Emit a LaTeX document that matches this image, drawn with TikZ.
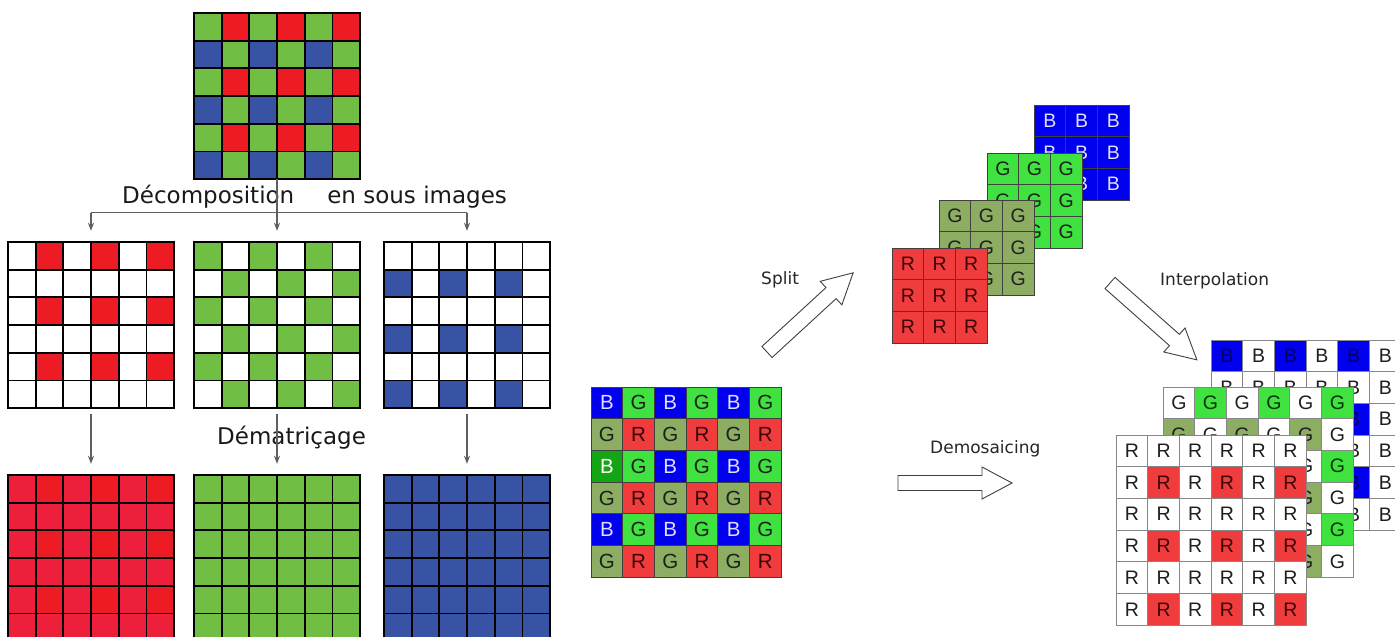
\documentclass[tikz,border=0pt]{standalone}
\usepackage{fontspec}
\setmainfont{DejaVu Sans}
\newfontfamily\arialf{Liberation Sans}
\usetikzlibrary{arrows.meta}
\definecolor{lred}{RGB}{237,28,36}
\definecolor{lredb}{RGB}{238,31,58}
\definecolor{lgreen}{RGB}{112,191,68}
\definecolor{lblue}{RGB}{57,83,164}
\definecolor{mblue}{RGB}{0,0,238}
\definecolor{mgreen}{RGB}{64,226,64}
\definecolor{molive}{RGB}{141,174,98}
\definecolor{mred}{RGB}{240,60,60}
\definecolor{mdkgreen}{RGB}{20,165,20}
\definecolor{bluetxt}{RGB}{222,222,255}
\definecolor{navytxt}{RGB}{0,0,90}
\definecolor{dgtxt}{RGB}{10,50,10}
\definecolor{drtxt}{RGB}{60,5,5}
\definecolor{dktxt}{RGB}{30,30,30}
\definecolor{connc}{RGB}{95,95,95}
\definecolor{gline}{RGB}{64,64,64}
\definecolor{lgline}{RGB}{135,135,135}
\tikzset{
  lline/.style={draw=black, line width=1.7pt, line cap=rect},
  gbox/.style={inner sep=0pt, draw=none, minimum width=166pt, minimum height=166pt},
  connline/.style={draw=connc, line width=1.3pt},
  connar/.style={draw=connc, line width=1.3pt, -{Stealth[length=8pt,width=6pt]}},
  blockar/.style={draw=black!75, line width=0.9pt, fill=white, line join=miter},
  ltr/.style={inner sep=0pt},
  lab/.style={inner sep=0pt, text=black!90, font=\fontsize{23}{25}\selectfont},
  slab/.style={inner sep=0pt, text=black!85, font=\fontsize{17}{19}\selectfont},
}
\def\ls{27.67}
\def\rs{31.7}
% left 6x6 grids
\newcommand\leftgrid[3]{%
\foreach \r in {0,...,5}{\foreach \c in {0,...,5}{%
  \pgfmathtruncatemacro\rr{mod(\r,2)}%
  \pgfmathtruncatemacro\cc{mod(\c,2)}%
  \def\fc{white}%
  \ifcase#3
    \ifnum\rr=0 \ifnum\cc=0 \def\fc{lgreen}\else\def\fc{lred}\fi\else\ifnum\cc=0 \def\fc{lblue}\else\def\fc{lgreen}\fi\fi
  \or \ifnum\rr=0 \ifnum\cc=1 \def\fc{lred}\fi\fi
  \or \ifnum\rr=\cc \def\fc{lgreen}\fi
  \or \ifnum\rr=1 \ifnum\cc=0 \def\fc{lblue}\fi\fi
  \or \def\fc{lredb}\ifnum\rr=0 \ifnum\cc=1 \def\fc{lred}\fi\fi
  \or \def\fc{lgreen}%
  \or \def\fc{lblue}%
  \fi
  \fill[\fc] ({#1+\c*\ls},{#2+\r*\ls}) rectangle ++(\ls,\ls);
}}
\foreach \i in {0,...,6}{%
  \draw[lline] ({#1+\i*\ls},#2) -- ++(0,{6*\ls});
  \draw[lline] (#1,{#2+\i*\ls}) -- ++({6*\ls},0);
}}
% right letter grids: #1 x0, #2 y0, #3 n-1, #4 mode, #5 name, #6 line colour, #7 font size
\newcommand\lettergrid[7]{%
\foreach \r in {0,...,#3}{\foreach \c in {0,...,#3}{%
  \pgfmathtruncatemacro\rr{mod(\r,2)}%
  \pgfmathtruncatemacro\cc{mod(\c,2)}%
  \def\fc{white}\def\tc{dktxt}%
  \ifcase#4
    \ifnum\rr=0
      \ifnum\cc=0 \def\fc{mblue}\def\tc{bluetxt}\def\lt{B}\else\def\fc{mgreen}\def\tc{dktxt}\def\lt{G}\fi
    \else
      \ifnum\cc=0 \def\fc{molive}\def\lt{G}\else\def\fc{mred}\def\tc{drtxt}\def\lt{R}\fi
    \fi
    \ifnum\r=2 \ifnum\c=0 \def\fc{mdkgreen}\def\tc{white}\fi\fi
  \or \def\fc{mblue}\def\tc{bluetxt}\def\lt{B}%
  \or \def\fc{mgreen}\def\tc{dktxt}\def\lt{G}%
  \or \def\fc{molive}\def\tc{dktxt}\def\lt{G}%
  \or \def\fc{mred}\def\tc{drtxt}\def\lt{R}%
  \or \def\lt{B}\ifnum\rr=0 \ifnum\cc=0 \def\fc{mblue}\def\tc{navytxt}\fi\fi
  \or \def\lt{G}\ifnum\rr=0 \ifnum\cc=1 \def\fc{mgreen}\def\tc{dgtxt}\fi\fi
      \ifnum\rr=1 \ifnum\cc=0 \def\fc{molive}\fi\fi
  \or \def\lt{R}\ifnum\rr=1 \ifnum\cc=1 \def\fc{mred}\def\tc{drtxt}\fi\fi
  \fi
  \filldraw[draw=#6, line width=0.8pt, fill=\fc] ({#1+\c*\rs},{#2+\r*\rs}) rectangle ++(\rs,\rs);
  \node[ltr, text=\tc, font=\arialf\fontsize{#7}{#7}\selectfont] (#5-\r-\c) at ({#1+(\c+0.5)*\rs},{#2+(\r+0.5)*\rs}) {\lt};
}}}
\newcommand\blockarrow[3]{%
\begin{scope}[shift={#1}, rotate=#2]
  \draw[blockar] (0,-7.5) -- ({#3-30},-7.5) -- ({#3-30},-16) -- (#3,0) -- ({#3-30},16) -- ({#3-30},7.5) -- (0,7.5) -- cycle;
\end{scope}}
\begin{document}
\begin{tikzpicture}[x=1pt,y=-1pt]
\useasboundingbox (0,0) rectangle (1395,637);
\fill[white] (0,0) rectangle (1395,637);
% ---------- left part ----------
\leftgrid{194}{13}{0}
\node[gbox] (topgrid) at (277,96) {};
\leftgrid{8}{242}{1}
\node[gbox] (redsub) at (91,325) {};
\leftgrid{194}{242}{2}
\node[gbox] (greensub) at (277,325) {};
\leftgrid{384}{242}{3}
\node[gbox] (bluesub) at (467,325) {};
\leftgrid{8}{475}{4}
\node[gbox] (redfull) at (91,558) {};
\leftgrid{194}{475}{5}
\node[gbox] (greenfull) at (277,558) {};
\leftgrid{384}{475}{6}
\node[gbox] (bluefull) at (467,558) {};

\node[lab, anchor=base west] (decomp) at (122,203) {Décomposition\hspace*{33pt}en sous images};
\node[lab, anchor=base west] (demat) at (217,444) {Dématriçage};

\coordinate (hl) at ([yshift=29pt]redsub.north);
\coordinate (hr) at ([yshift=29pt]bluesub.north);
\draw[connline] (hl) -- (hr);
\draw[connar] (topgrid.south) -- ([yshift=11pt]greensub.north);
\draw[connar] (hl) -- ([yshift=11pt]redsub.north);
\draw[connar] (hr) -- ([yshift=11pt]bluesub.north);
\draw[connar] ([yshift=-6pt]redsub.south) -- ([yshift=11pt]redfull.north);
\draw[connar] ([yshift=-6pt]greensub.south) -- ([yshift=11pt]greenfull.north);
\draw[connar] ([yshift=-6pt]bluesub.south) -- ([yshift=11pt]bluefull.north);

% ---------- right part ----------
\lettergrid{591}{387}{5}{0}{m}{gline}{20.5}
% split stacks
\lettergrid{1034}{105}{2}{1}{sb}{gline}{19.5}
\lettergrid{987}{153}{2}{2}{sg}{gline}{19.5}
\lettergrid{939}{200}{2}{3}{so}{gline}{19.5}
\lettergrid{892}{248}{2}{4}{sr}{gline}{19.5}
% interpolated stacks
\lettergrid{1211}{340}{5}{5}{ib}{lgline}{19.5}
\lettergrid{1163}{387}{5}{6}{ig}{lgline}{19.5}
\lettergrid{1116}{435}{5}{7}{ir}{lgline}{19.5}

\blockarrow{(767,352)}{42.6}{117}
\blockarrow{(1110,283)}{-41.5}{116}
\blockarrow{(898,483)}{0}{114}

\node[slab, anchor=base west] (split) at (761,284) {Split};
\node[slab, anchor=base west] (interp) at (1160,285) {Interpolation};
\node[slab, anchor=base west] (demos) at (930,453) {Demosaicing};
\end{tikzpicture}
\end{document}
